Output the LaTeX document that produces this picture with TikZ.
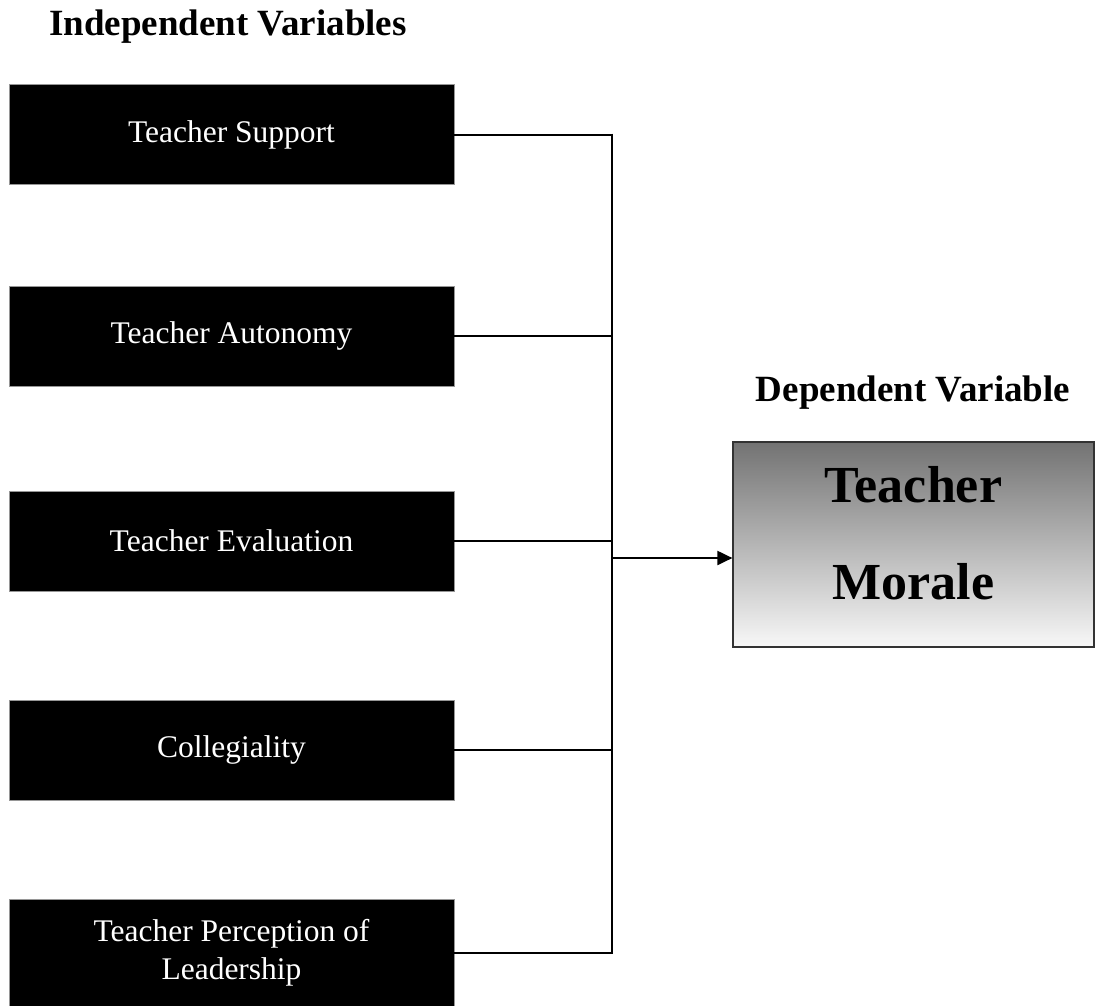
\documentclass[tikz,border=0pt]{standalone}
\usepackage{fontspec}
\setmainfont{Liberation Serif}
\usepackage{tikz}
\usetikzlibrary{arrows.meta, positioning, calc}
\definecolor{boxgray}{RGB}{150, 150, 150}
\tikzstyle{ivbox} = [rectangle, draw=boxgray, fill=black, text=white, minimum width=445pt, minimum height=100pt, align=center, font=\fontsize{31.5}{38}\selectfont, line width=0.8pt]
\tikzstyle{dvbox} = [rectangle, draw=black!80, top color=black!55, bottom color=black!3, minimum width=361pt, minimum height=205pt, text depth=24pt, align=center, font=\fontsize{52}{97}\selectfont\bfseries, line width=1.2pt]
\tikzstyle{heading} = [font=\fontsize{37}{44}\selectfont\bfseries]
\tikzstyle{link} = [line width=2pt]
\tikzstyle{arrow} = [-{Triangle[length=15pt, width=14pt]}, line width=2pt]

\begin{document}
\begin{tikzpicture}[x=1pt, y=-1pt]
    \useasboundingbox (0,0) rectangle (1096,1005);

    % Headings
    \node[heading] (ivhead) at (228, 27) {Independent Variables};
    \node[heading] (dvhead) at (913, 393) {Dependent Variable};

    % Independent variables
    \node[ivbox] (support) at (231.5, 134.5) {Teacher Support};
    \node[ivbox] (autonomy) at (231.5, 336) {Teacher Autonomy};
    \node[ivbox] (evaluation) at (231.5, 541) {Teacher Evaluation};
    \node[ivbox] (collegiality) at (231.5, 750) {Collegiality};
    \node[ivbox, minimum height=108pt] (leadership) at (231.5, 953) {Teacher Perception of\\Leadership};

    % Dependent variable
    \node[dvbox] (morale) at (913.5, 544.5) {Teacher\\Morale};

    % Bus
    \coordinate (bustop) at ($(support.east)+(158,-1)$);
    \coordinate (busbot) at ($(leadership.east)+(158,1)$);
    \coordinate (junc) at (613, 558);
    \draw[link] (bustop) -- (busbot);

    % Links
    \draw[link] (support.east) -- (support.east -| bustop);
    \draw[link] (autonomy.east) -- (autonomy.east -| bustop);
    \draw[link] (evaluation.east) -- (evaluation.east -| bustop);
    \draw[link] (collegiality.east) -- (collegiality.east -| bustop);
    \draw[link] (leadership.east) -- (leadership.east -| bustop);
    \draw[arrow] (junc) -- (junc -| morale.west);
\end{tikzpicture}
\end{document}
